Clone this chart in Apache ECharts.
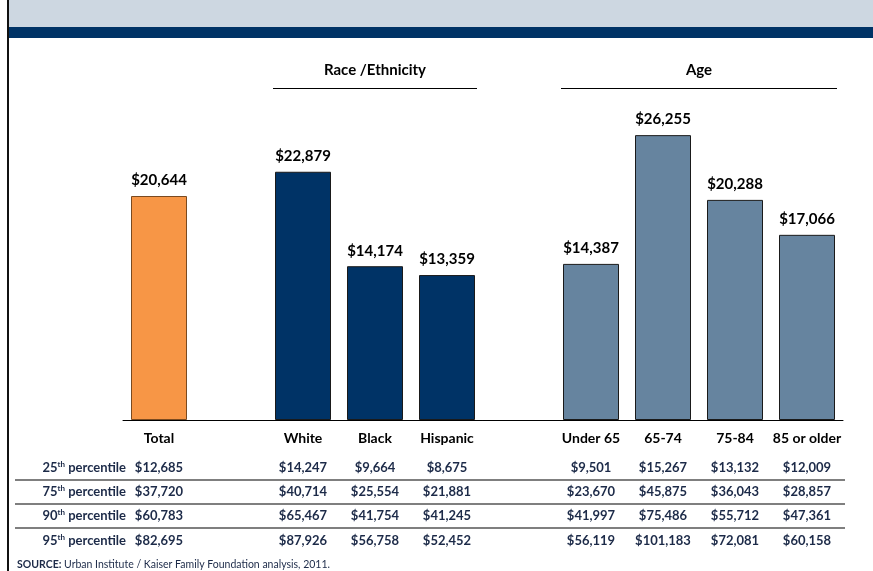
<!DOCTYPE html>
<html>
<head>
<meta charset="utf-8">
<script src="https://cdn.jsdelivr.net/npm/echarts@6/dist/echarts.min.js"></script>
<style>
html,body{margin:0;padding:0;background:#fff;}
#chart{width:873px;height:571px;}
</style>
</head>
<body>
<div id="chart"></div>
<script>
const categories = ['Total', 'White', 'Black', 'Hispanic', 'Under 65', '65-74', '75-84', '85 or older'];
const groups = ['total', 'race', 'race', 'race', 'age', 'age', 'age', 'age'];
const averageSpending = [20644, 22879, 14174, 13359, 14387, 26255, 20288, 17066];
const p25 = [12685, 14247, 9664, 8675, 9501, 15267, 13132, 12009];
const p75 = [37720, 40714, 25554, 21881, 23670, 45875, 36043, 28857];
const p90 = [60783, 65467, 41754, 41245, 41997, 75486, 55712, 47361];
const p95 = [82695, 87926, 56758, 52452, 56119, 101183, 72081, 60158];
const percentileRows = [['25', p25], ['75', p75], ['90', p90], ['95', p95]];
const groupTitles = {race: 'Race /Ethnicity', age: 'Age'};
const sourceLabel = 'SOURCE:';
const sourceText = ' Urban Institute / Kaiser Family Foundation analysis, 2011.';

const groupColors = {total: '#F79646', race: '#003366', age: '#66849F'};
const groupBorders = {total: '#7a4a20', race: '#1a1a1a', age: '#1a1a1a'};
const FONT = 'Lato, "Open Sans", sans-serif';

// build axis categories with spacer slots between groups
const axisCats = [];
const barData = [];
const catIndexMap = [];
let spacer = 0;
categories.forEach((c, i) => {
  if (i > 0 && groups[i] !== groups[i - 1]) {
    spacer++;
    axisCats.push(' '.repeat(spacer));
    barData.push(null);
  }
  catIndexMap.push(axisCats.length);
  axisCats.push(c);
  barData.push({
    value: averageSpending[i],
    itemStyle: {color: groupColors[groups[i]], borderColor: groupBorders[groups[i]], borderWidth: 1}
  });
});

const money = v => '$' + v.toLocaleString('en-US');

const chart = echarts.init(document.getElementById('chart'), null, {renderer: 'canvas'});
const option = {
  animation: false,
  backgroundColor: '#fff',
  grid: {left: 123, right: 30, top: 94.5, bottom: 151, containLabel: false},
  xAxis: {
    type: 'category',
    data: axisCats,
    axisLine: {show: true, lineStyle: {color: '#000', width: 1}},
    axisTick: {show: false},
    axisLabel: {
      interval: 0, margin: 11, color: '#000', fontFamily: FONT,
      fontWeight: 'bold', fontSize: 14
    }
  },
  yAxis: {type: 'value', min: 0, max: 30000, show: false, splitLine: {show: false}},
  series: [{
    type: 'bar',
    data: barData,
    barWidth: 56,
    label: {
      show: true, position: 'top', distance: 8,
      formatter: p => money(p.value),
      fontFamily: FONT, fontWeight: 'bold', fontSize: 15, color: '#000'
    }
  }]
};
chart.setOption(option);

// graphics: header band, border, group titles, percentile table, source
const g = [];
g.push({type: 'rect', shape: {x: 9, y: 0, width: 864, height: 27}, style: {fill: '#CDD7E1'}, silent: true});
g.push({type: 'rect', shape: {x: 9, y: 27, width: 864, height: 11}, style: {fill: '#003366'}, silent: true});
g.push({type: 'rect', shape: {x: 7, y: 0, width: 2, height: 571}, style: {fill: '#111'}, silent: true});

const xOf = i => chart.convertToPixel({xAxisIndex: 0}, catIndexMap[i]);

['race', 'age'].forEach(grp => {
  const idx = groups.map((gg, i) => gg === grp ? i : -1).filter(i => i >= 0);
  const x0 = xOf(idx[0]) - 30, x1 = xOf(idx[idx.length - 1]) + 30;
  g.push({type: 'text', style: {
    x: (x0 + x1) / 2, y: 70, text: groupTitles[grp], textAlign: 'center', textVerticalAlign: 'middle',
    font: 'bold 15px ' + FONT, fill: '#000'}});
  g.push({type: 'rect', shape: {x: Math.round(x0), y: 88, width: Math.round(x1 - x0), height: 1}, style: {fill: '#000'}});
});

const rowY = [468, 492, 516, 541];
const tableColor = '#1C2A48';
percentileRows.forEach((row, r) => {
  const y = rowY[r];
  g.push({type: 'text', style: {
    x: 126, y: y, textAlign: 'right', textVerticalAlign: 'middle',
    text: '{n|' + row[0] + '}{s|th}{n| percentile}',
    rich: {
      n: {font: 'bold 13px ' + FONT, fill: tableColor},
      s: {font: 'bold 8px ' + FONT, fill: tableColor, padding: [0, 0, 7, 0]}
    }
  }});
  row[1].forEach((v, i) => {
    g.push({type: 'text', style: {
      x: xOf(i), y: y, text: money(v), textAlign: 'center', textVerticalAlign: 'middle',
      font: 'bold 13px ' + FONT, fill: tableColor}});
  });
  if (r < percentileRows.length - 1) {
    g.push({type: 'rect', shape: {x: 15, y: y + 11, width: 830, height: 2}, style: {fill: '#7f7f7f'}});
  }
});

g.push({type: 'text', style: {
  x: 17, y: 565, textAlign: 'left', textVerticalAlign: 'middle',
  text: '{b|' + sourceLabel + '}{r|' + sourceText + '}',
  rich: {
    b: {font: 'bold 10.5px ' + FONT, fill: '#1C2A48'},
    r: {font: '10.5px ' + FONT, fill: '#1C2A48'}
  }
}});

chart.setOption({graphic: {elements: g}});
</script>
</body>
</html>
